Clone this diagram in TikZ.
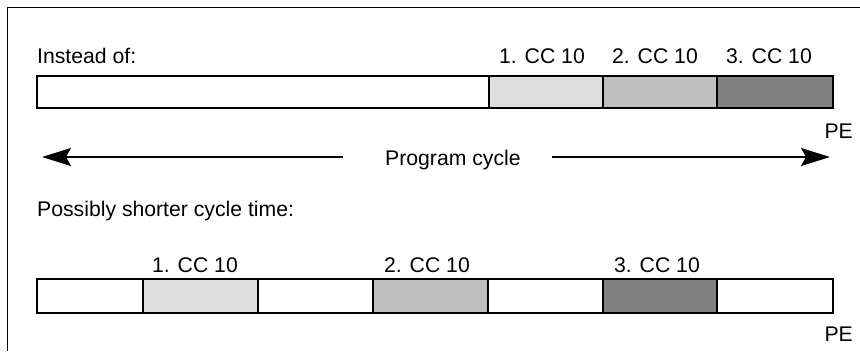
\documentclass[tikz,border=0pt]{standalone}
\usepackage{fontspec}
\setmainfont{Liberation Sans}
\usetikzlibrary{arrows.meta}
\definecolor{ccone}{HTML}{DEDEDE}
\definecolor{cctwo}{HTML}{BFBFBF}
\definecolor{ccthree}{HTML}{808080}
\tikzset{
  seg/.style={draw=black, line width=2pt, rectangle, inner sep=0pt, outer sep=0pt},
  toprow/.style={seg, minimum height=32pt},
  botrow/.style={seg, minimum height=34pt},
  lbl/.style={inner sep=0pt, anchor=base, font=\fontsize{21.2}{24}\selectfont},
  lblw/.style={lbl, anchor=base west},
  frameline/.style={line width=1pt},
  cyc/.style={line width=2pt, -{Stealth[length=29pt, width=18pt, inset=5pt]}}
}
\begin{document}
\begin{tikzpicture}[x=1pt, y=-1pt]
\useasboundingbox (0,0) rectangle (860,351);
\draw[frameline] (7,351) -- (7,7) -- (860,7);
% top row
\node[lblw] (insteadof) at (37,63) {Instead of:};
\node[toprow, fill=white, minimum width=452pt] (t0) at (263,92) {};
\node[toprow, fill=ccone, minimum width=114pt] (t1) at (546,92) {};
\node[toprow, fill=cctwo, minimum width=114pt] (t2) at (660,92) {};
\node[toprow, fill=ccthree, minimum width=116pt] (t3) at (775,92) {};
\node[lbl] (lt1) at (542,63) {1. CC 10};
\node[lbl] (lt2) at (655,63) {2. CC 10};
\node[lbl] (lt3) at (769,63) {3. CC 10};
\node[lbl, anchor=base east] (pe1) at (853,138) {PE};
% program cycle
\node[lblw] (pc) at (385,165) {Program cycle};
\coordinate (ml) at (343,157);
\coordinate (mr) at (552,157);
\coordinate (al) at (42,157);
\coordinate (ar) at (830,157);
\draw[cyc] (ml) -- (al);
\draw[cyc] (mr) -- (ar);
% bottom row
\node[lblw] (poss) at (37,216) {Possibly shorter cycle time:};
\node[botrow, fill=white, minimum width=106pt] (b0) at (90,296) {};
\node[botrow, fill=ccone, minimum width=115pt] (b1) at (200.5,296) {};
\node[botrow, fill=white, minimum width=115pt] (b2) at (315.5,296) {};
\node[botrow, fill=cctwo, minimum width=115pt] (b3) at (430.5,296) {};
\node[botrow, fill=white, minimum width=115pt] (b4) at (545.5,296) {};
\node[botrow, fill=ccthree, minimum width=114pt] (b5) at (660,296) {};
\node[botrow, fill=white, minimum width=116pt] (b6) at (775,296) {};
\node[lbl] (lb1) at (195,272) {1. CC 10};
\node[lbl] (lb2) at (427,272) {2. CC 10};
\node[lbl] (lb3) at (657,272) {3. CC 10};
\node[lbl, anchor=base east] (pe2) at (853,341) {PE};
\end{tikzpicture}
\end{document}
